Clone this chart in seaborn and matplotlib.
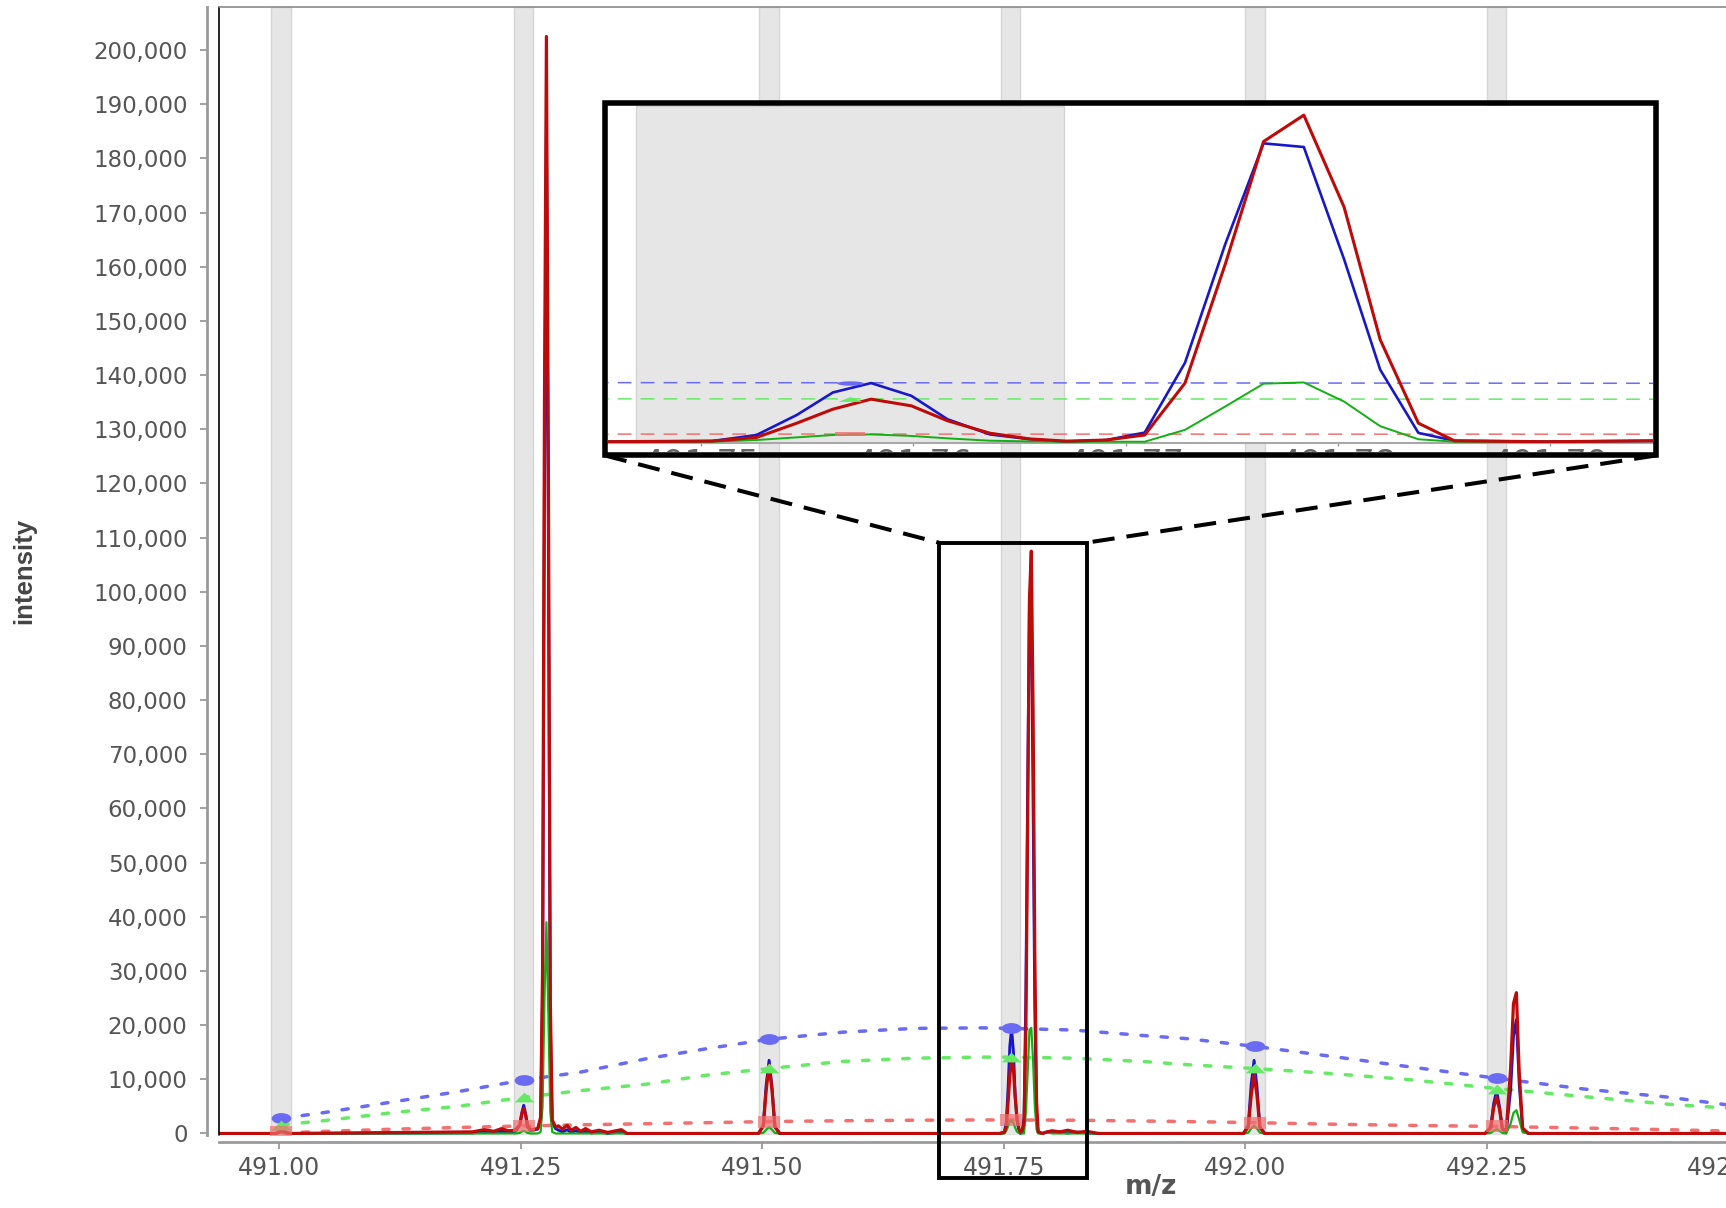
import matplotlib
matplotlib.use("Agg")
import matplotlib.pyplot as plt
import seaborn as sns
from matplotlib import font_manager
from matplotlib.patches import Rectangle
from matplotlib.lines import Line2D
from matplotlib.path import Path
from matplotlib.transforms import Bbox, TransformedBbox, Affine2D

# ---- spectrum profiles (m/z, intensity) ----
mz = [490.930,
      490.996, 490.999, 491.001, 491.003, 491.005, 491.007, 491.010,
      491.200, 491.212, 491.222, 491.230, 491.237,
      491.244, 491.249, 491.251, 491.253, 491.255, 491.257, 491.260,
      491.2675, 491.2705, 491.2725, 491.2745, 491.2765, 491.2785, 491.2805, 491.2825, 491.286,
      491.289, 491.293, 491.298, 491.302, 491.307, 491.312, 491.317, 491.323, 491.331, 491.340, 491.354, 491.360,
      491.496, 491.501, 491.504, 491.507, 491.510, 491.513, 491.518,
      491.7452, 491.7505, 491.7526, 491.7545, 491.7562, 491.7580, 491.7599, 491.7616, 491.7636, 491.7655,
      491.7672, 491.7691, 491.7709, 491.7728, 491.7747, 491.7765, 491.7784, 491.7803, 491.7820, 491.7838,
      491.7855, 491.7898,
      491.7949, 491.800, 491.808, 491.816, 491.826, 491.836, 491.848,
      491.998, 492.003, 492.006, 492.009, 492.012, 492.015, 492.020,
      492.248, 492.254, 492.257, 492.260, 492.263, 492.266, 492.270, 492.2745, 492.2775, 492.2805, 492.2835, 492.287, 492.293,
      492.900]

int_blue = [0,
            0, 200, 600, 900, 600, 200, 0,
            100, 300, 150, 400, 200,
            300, 1500, 3800, 5200, 3600, 1200, 500,
            800, 2500, 25000, 120000, 186000, 110000, 20000, 2000, 900,
            600, 300, 700, 200, 500, 150, 400, 100, 300, 0, 300, 0,
            0, 1500, 9000, 13500, 8500, 1200, 0,
            0, 200, 2200, 8800, 16200, 19300, 15100, 7400, 2400, 800,
            0, 550, 3000, 26000, 65100, 98200, 97000, 60000, 23700, 2900,
            300, 0,
            300, 200, 300, 100, 250, 100, 0,
            0, 1500, 9000, 13500, 8500, 1200, 0,
            0, 1200, 5500, 7900, 5000, 800, 300, 8000, 18000, 21000, 9000, 600, 0,
            0]

int_red = [0,
           0, 150, 400, 600, 400, 150, 0,
           300, 700, 400, 900, 500,
           600, 1600, 3600, 4600, 3400, 1400, 700,
           900, 3000, 30000, 135000, 202500, 125000, 25000, 2500, 1200,
           1400, 800, 1500, 600, 1100, 400, 900, 300, 600, 200, 700, 0,
           0, 1400, 8000, 12600, 8000, 1300, 0,
           0, 200, 1400, 6100, 10700, 14000, 11800, 6900, 2800, 900,
           200, 550, 2200, 19300, 58500, 98800, 107500, 77200, 33600, 6100,
           300, 0,
           300, 500, 300, 600, 200, 400, 0,
           0, 1200, 7000, 10800, 7000, 1100, 0,
           0, 1000, 4800, 6700, 4500, 900, 500, 12000, 24000, 26000, 11000, 1000, 0,
           0]

int_green = [0,
             0, 50, 150, 250, 150, 50, 0,
             0, 0, 0, 0, 0,
             0, 100, 350, 500, 350, 100, 0,
             0, 300, 5000, 25000, 39000, 22000, 4000, 300, 0,
             0, 0, 0, 0, 0, 0, 0, 0, 0, 0, 0, 0,
             0, 100, 700, 1200, 700, 100, 0,
             0, 0, 550, 1430, 2200, 2400, 1900, 1100, 330, 100,
             0, 0, 0, 3900, 11600, 19100, 19500, 13200, 5100, 800,
             0, 0,
             200, 0, 0, 0, 0, 0, 0,
             0, 150, 900, 1400, 900, 150, 0,
             0, 100, 500, 800, 500, 100, 0, 1800, 3800, 4300, 2500, 200, 0,
             0]

# ---- theoretical isotope envelopes ----
env_mz = [491.003, 491.048, 491.120, 491.184, 491.254, 491.311, 491.380, 491.444, 491.507, 491.583,
          491.657, 491.729, 491.757, 491.822, 491.893, 491.940, 492.009, 492.078, 492.166, 492.260,
          492.351, 492.438, 492.498]
env_blue = [2800, 3900, 5900, 7700, 9900, 11300, 13800, 15700, 17400, 18700,
            19400, 19500, 19400, 19100, 18100, 17500, 16100, 14500, 12400, 10200,
            8200, 6700, 5300]
env_green = [1600, 2400, 3900, 5000, 6700, 7900, 9100, 10800, 12000, 13300,
             13900, 14100, 14100, 13900, 13300, 12700, 12000, 11200, 10000, 8300,
             6800, 5400, 4700]
env_red = [100, 400, 800, 1100, 1400, 1600, 1800, 2000, 2200, 2350,
           2450, 2500, 2500, 2450, 2300, 2200, 2000, 1750, 1500, 1300,
           1000, 700, 450]

iso_mz = [491.002, 491.253, 491.507, 491.757, 492.010, 492.260]
iso_blue = [2800, 9900, 17400, 19400, 16100, 10200]
iso_green = [1600, 6700, 12000, 14100, 12000, 8300]
iso_red = [300, 1400, 2200, 2500, 2000, 1300]
band_half = 0.0101

x_ticks = [491.00, 491.25, 491.50, 491.75, 492.00, 492.25, 492.50, 492.75]
y_ticks = [0, 10000, 20000, 30000, 40000, 50000, 60000, 70000, 80000, 90000, 100000,
           110000, 120000, 130000, 140000, 150000, 160000, 170000, 180000, 190000, 200000]
inset_ticks = [491.75, 491.76, 491.77, 491.78, 491.79]
zoom_box_x = (491.6829, 491.8356)
zoom_box_y = (-8200, 109060)

C_BLUE, C_RED, C_GREEN = "#1818c8", "#bf0a0a", "#12b012"
E_BLUE, E_GREEN, E_RED = "#6a6af2", "#66ea66", "#f27070"

sns.set_style("white")
plt.rcParams['font.family'] = ['DejaVu Sans']

# narrow face for the axis title, if there is one
installed = {f.name for f in font_manager.fontManager.ttflist}
if "Liberation Sans Narrow" in installed:
    ylab_font, ylab_size, ylab_weight = "Liberation Sans Narrow", 23, "normal"
else:
    ylab_font, ylab_size, ylab_weight = "Liberation Sans", 18.5, "bold"

W, H = 1726, 1208
fig = plt.figure(figsize=(W / 100, H / 100), dpi=100)


def fx(px):
    return px / W


def fy(py):
    return 1 - py / H


# custom stretched markers
ellipse = Path.unit_circle().transformed(Affine2D().scale(1.0, 0.55))
tri = Path([(-1, -0.5), (1, -0.5), (0, 0.5), (-1, -0.5)], [1, 2, 2, 79])
rect = Path([(-1, -0.5), (1, -0.5), (1, 0.5), (-1, 0.5), (-1, -0.5)], [1, 2, 2, 2, 79])
ellipse_flat = Path.unit_circle().transformed(Affine2D().scale(1.0, 0.16))
tri_flat = Path([(-1, -0.2), (1, -0.2), (0, 0.2), (-1, -0.2)], [1, 2, 2, 79])
rect_flat = Path([(-1, -0.14), (1, -0.14), (1, 0.14), (-1, 0.14), (-1, -0.14)], [1, 2, 2, 2, 79])

# ---------------- main axes ----------------
ax = fig.add_axes([fx(219), fy(1135), (2083 - 219) / W, (1135 - 6.5) / H])
xmin, xmax = 490.9376, 492.867
ymin, ymax = -280, 208050

for c in iso_mz:
    ax.axvspan(c - band_half, c + band_half, facecolor="#e6e6e6", edgecolor="#d6d6d6", lw=1, zorder=0)

env_style = dict(lw=2.5, linestyle=(0, (1.8, 4.0)), dash_capstyle="round", legend=False, zorder=2)
sns.lineplot(x=env_mz, y=env_blue, ax=ax, color=E_BLUE, **env_style)
sns.lineplot(x=env_mz, y=env_green, ax=ax, color=E_GREEN, **env_style)
sns.lineplot(x=env_mz, y=env_red, ax=ax, color=E_RED, **env_style)

line_style = dict(estimator=None, sort=False, legend=False)
sns.lineplot(x=mz, y=int_blue, ax=ax, color=C_BLUE, lw=2.1, zorder=3, **line_style)
sns.lineplot(x=mz, y=int_green, ax=ax, color=C_GREEN, lw=1.6, zorder=3, **line_style)
sns.lineplot(x=mz, y=int_red, ax=ax, color=C_RED, lw=2.3, zorder=3, **line_style)

sns.scatterplot(x=iso_mz, y=iso_blue, ax=ax, marker=ellipse, s=200, color=E_BLUE, linewidth=0, zorder=5, legend=False)
sns.scatterplot(x=iso_mz, y=iso_green, ax=ax, marker=tri, s=200, color=E_GREEN, linewidth=0, zorder=5, legend=False)
sns.scatterplot(x=iso_mz, y=iso_red, ax=ax, marker=rect, s=260, color=E_RED, alpha=0.7, linewidth=0, zorder=5, legend=False)

ax.set_xlim(xmin, xmax)
ax.set_ylim(ymin, ymax)
ax.set_xticks(x_ticks, labels=[f"{t:.2f}" for t in x_ticks])
ax.set_yticks(y_ticks, labels=[f"{t:,}" for t in y_ticks])
ax.tick_params(axis="both", bottom=True, left=True, direction="out", length=5, width=1.3,
               color="#9a9a9a", labelcolor="#555555")
ax.tick_params(axis="y", labelsize=16.5, pad=9)
ax.tick_params(axis="x", labelsize=17, pad=5)

for s in ["top", "right"]:
    ax.spines[s].set_visible(False)
ax.spines["left"].set_position(("outward", 8.6))
ax.spines["bottom"].set_position(("outward", 5))
for s in ["left", "bottom"]:
    ax.spines[s].set_color("#9a9a9a")
    ax.spines[s].set_linewidth(2)

ax.axvline(xmin, color="black", lw=1.2, clip_on=False, zorder=4)
ax.axhline(ymax, color="#8a8a8a", lw=1.2, clip_on=False, zorder=4)

ax.set_xlabel("m/z", fontsize=19, fontweight="bold", color="#555555", va="center")
ax.xaxis.set_label_coords(0.5, -(1187 - 1135) / (1135 - 6.5))
ax.set_ylabel("intensity", fontsize=ylab_size, fontweight=ylab_weight, color="#444444", va="center",
              family=[ylab_font, "DejaVu Sans"])
ax.yaxis.set_label_coords((24 - 219) / (2083 - 219), 0.5)

ax.add_patch(Rectangle((zoom_box_x[0], zoom_box_y[0]), zoom_box_x[1] - zoom_box_x[0],
                       zoom_box_y[1] - zoom_box_y[0], fill=False, ec="black", lw=2.8,
                       clip_on=False, zorder=6))

# ---------------- inset ----------------
ax_in = fig.add_axes([fx(608), fy(443), (1653 - 608) / W, (443 - 106) / H], zorder=8)
ax_in.set_facecolor("white")
c = iso_mz[3]
ax_in.axvspan(c - band_half, c + band_half, facecolor="#e6e6e6", edgecolor="#d2d2d2", lw=1, zorder=0)

env_in = dict(lw=1.1, linestyle=(0, (9, 6)), legend=False, zorder=2)
sns.lineplot(x=env_mz, y=env_blue, ax=ax_in, color=E_BLUE, **env_in)
sns.lineplot(x=env_mz, y=env_green, ax=ax_in, color=E_GREEN, **env_in)
sns.lineplot(x=env_mz, y=env_red, ax=ax_in, color=E_RED, **env_in)

sns.lineplot(x=mz, y=int_blue, ax=ax_in, color=C_BLUE, lw=1.9, zorder=3, **line_style)
sns.lineplot(x=mz, y=int_green, ax=ax_in, color=C_GREEN, lw=1.4, zorder=3, **line_style)
sns.lineplot(x=mz, y=int_red, ax=ax_in, color=C_RED, lw=2.2, zorder=3, **line_style)

sns.scatterplot(x=iso_mz, y=iso_blue, ax=ax_in, marker=ellipse_flat, s=380, color=E_BLUE, linewidth=0, zorder=5, legend=False)
sns.scatterplot(x=iso_mz, y=iso_green, ax=ax_in, marker=tri_flat, s=300, color=E_GREEN, linewidth=0, zorder=5, legend=False)
sns.scatterplot(x=iso_mz, y=iso_red, ax=ax_in, marker=rect_flat, s=460, color=E_RED, alpha=0.8, linewidth=0, zorder=5, legend=False)

ax_in.set_xlim(491.7456, 491.79486)
ax_in.set_ylim(-430, 110500)
ax_in.set_yticks([])
ax_in.set_xticks(inset_ticks, labels=[f"{t:.2f}" for t in inset_ticks])
ax_in.tick_params(axis="x", bottom=True, length=2.5, width=1, pad=1, color="#9a9a9a",
                  labelcolor="#666666", labelsize=24)
for s in ["top", "right", "left"]:
    ax_in.spines[s].set_visible(False)
ax_in.spines["bottom"].set_color("#a8a8a8")
ax_in.spines["bottom"].set_linewidth(1.5)
ax_in.set_xlabel("")
ax_in.set_ylabel("")

clip = TransformedBbox(Bbox.from_extents(fx(608), fy(452), fx(1653), fy(106)), fig.transFigure)
for t in ax_in.get_xticklabels():
    t.set_clip_box(clip)
    t.set_clip_on(True)

fig.add_artist(Rectangle((fx(605), fy(455.5)), (1656 - 605) / W, (455.5 - 103.5) / H,
                         transform=fig.transFigure, fill=False, ec="black", lw=4, zorder=20))
for x0, x1 in [(605, 939), (1656, 1086.5)]:
    fig.add_artist(Line2D([fx(x0), fx(x1)], [fy(455.5), fy(542.7)], transform=fig.transFigure,
                          color="black", lw=2.9, linestyle=(0, (5.5, 3)), zorder=20))

fig.savefig("out.png", dpi=100)
